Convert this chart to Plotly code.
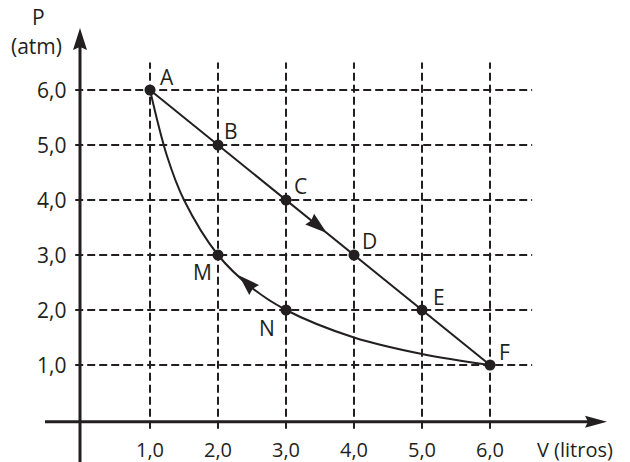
import numpy as np
import plotly.graph_objects as go

# ---------------- data ----------------
line_V = [1.0, 2.0, 3.0, 4.0, 5.0, 6.0]
line_P = [6.0, 5.0, 4.0, 3.0, 2.0, 1.0]
line_names = ["A", "B", "C", "D", "E", "F"]

curve_V = [1.0, 1.25, 1.5, 2.0, 2.5, 3.0, 4.0, 5.0, 6.0]
curve_P = [6.0, 4.8, 4.0, 3.0, 2.4, 2.0, 1.5, 1.2, 1.0]
curve_pt_V = [2.0, 3.0]
curve_pt_P = [3.0, 2.0]
curve_names = ["M", "N"]

v_ticks = [1, 2, 3, 4, 5, 6]
v_labels = ["1,0", "2,0", "3,0", "4,0", "5,0", "6,0"]
p_ticks = [1, 2, 3, 4, 5, 6]
p_labels = ["1,0", "2,0", "3,0", "4,0", "5,0", "6,0"]

# ---------------- layout constants ----------------
W, H = 630, 462
OX, OY = 82, 420          # pixel position of (0, 0)
SX, SY = 68.0, 55.0       # pixels per unit
xr = [-OX / SX, (W - OX) / SX]
yr = [-(H - OY) / SY, OY / SY]
INK = "#231f20"
FONT = dict(family="Open Sans, Noto Sans, sans-serif", size=21, color=INK)
FONT_B = dict(family="Open Sans, Noto Sans, sans-serif", size=20, color=INK)


def px2v(px):
    return (px - OX) / SX


def py2p(py):
    return (OY - py) / SY


def head(tipx, tipy, dxp, dyp, L, Wd, notch):
    n = np.hypot(dxp, dyp)
    ux, uy = dxp / n, dyp / n
    qx, qy = -uy, ux
    bx, by = -L * ux, -L * uy
    p1 = (bx + Wd / 2 * qx, by + Wd / 2 * qy)
    p2 = (-(L - notch) * ux, -(L - notch) * uy)
    p3 = (bx - Wd / 2 * qx, by - Wd / 2 * qy)
    path = "M0,0 L{:.2f},{:.2f} L{:.2f},{:.2f} L{:.2f},{:.2f} Z".format(
        p1[0], p1[1], p2[0], p2[1], p3[0], p3[1])
    return dict(type="path", xref="x", yref="y", xsizemode="pixel",
                ysizemode="pixel", xanchor=tipx, yanchor=tipy, path=path,
                fillcolor=INK, line=dict(width=0), layer="above")


shapes = []
dash = "8px,4px"
# grid
for v in v_ticks:
    shapes.append(dict(type="line", xref="x", yref="y", x0=v, x1=v,
                       y0=-0.16, y1=6.5, layer="below",
                       line=dict(color=INK, width=2, dash=dash)))
for p in p_ticks:
    shapes.append(dict(type="line", xref="x", yref="y", x0=-0.1, x1=6.62,
                       y0=p, y1=p, layer="below",
                       line=dict(color=INK, width=2, dash=dash)))
# axes
ax_v = px2v(80)
ax_p = py2p(421.7)
x_tip = px2v(607)
y_tip = py2p(28)
shapes.append(dict(type="line", xref="x", yref="y", x0=px2v(45), x1=x_tip - 10 / SX,
                   y0=ax_p, y1=ax_p, line=dict(color=INK, width=3)))
shapes.append(dict(type="line", xref="x", yref="y", x0=ax_v, x1=ax_v,
                   y0=yr[0], y1=y_tip - 10 / SY, line=dict(color=INK, width=3)))
shapes.append(head(x_tip, ax_p, 1, 0, 22, 12, 3))
shapes.append(head(ax_v, y_tip, 0, 1, 22, 14, 3))

# direction arrow on the straight line (between C and D)
f = 0.6
tv = line_V[2] + f * (line_V[3] - line_V[2])
tp = line_P[2] + f * (line_P[3] - line_P[2])
shapes.append(head(tv, tp, (line_V[3] - line_V[2]) * SX,
                   (line_P[3] - line_P[2]) * SY, 22, 14, 2))

# direction arrow on the curve (between N and M, pointing to M)
cv = 2.31
cp = float(np.interp(cv, curve_V, curve_P))
cp2 = float(np.interp(cv + 0.1, curve_V, curve_P))
shapes.append(head(cv, cp, -0.1 * SX, (cp - cp2) * SY, 21, 14, 2))

fig = go.Figure()
fig.add_trace(go.Scatter(x=curve_V, y=curve_P, mode="lines",
                         line=dict(color=INK, width=2, shape="spline"),
                         hoverinfo="skip"))
fig.add_trace(go.Scatter(x=line_V, y=line_P, mode="lines+markers",
                         line=dict(color=INK, width=2),
                         marker=dict(color=INK, size=11)))
fig.add_trace(go.Scatter(x=curve_pt_V, y=curve_pt_P, mode="markers",
                         marker=dict(color=INK, size=11)))

ann = []
line_off = [(17, 13), (13, 14), (14, 14), (15, 14), (17, 13), (14, 13)]
for v, p, name, (dx, dy) in zip(line_V, line_P, line_names, line_off):
    ann.append(dict(x=v, y=p, text=name, showarrow=False, xshift=dx,
                    yshift=dy, font=FONT))
curve_off = [(-16, -17), (-19, -18)]
for v, p, name, (dx, dy) in zip(curve_pt_V, curve_pt_P, curve_names, curve_off):
    ann.append(dict(x=v, y=p, text=name, showarrow=False, xshift=dx,
                    yshift=dy, font=FONT))
for v, lab in zip(v_ticks, v_labels):
    ann.append(dict(x=v, y=0, text=lab, showarrow=False, yshift=-29,
                    font=FONT_B))
for p, lab in zip(p_ticks, p_labels):
    ann.append(dict(x=0, y=p, text=lab, showarrow=False, xanchor="right",
                    xshift=-14, font=FONT))
ann.append(dict(x=6, y=0, text="V (litros)", showarrow=False, xanchor="left",
                xshift=45, yshift=-29, font=FONT_B))
ann.append(dict(x=0, y=6, text="P", showarrow=False, xshift=-44, yshift=73,
                font=FONT))
ann.append(dict(x=0, y=6, text="(atm)", showarrow=False, xshift=-46,
                yshift=44, font=FONT))

fig.update_layout(
    width=W, height=H, margin=dict(l=0, r=0, t=0, b=0),
    paper_bgcolor="white", plot_bgcolor="white", showlegend=False,
    hovermode=False,
    xaxis=dict(range=xr, visible=False, fixedrange=True),
    yaxis=dict(range=yr, visible=False, fixedrange=True),
    shapes=shapes, annotations=ann,
)
fig.write_html("out.html",
               config={"displayModeBar": False, "staticPlot": True},
               post_script="document.body.style.margin='0';"
                           "document.body.style.overflow='hidden';")
